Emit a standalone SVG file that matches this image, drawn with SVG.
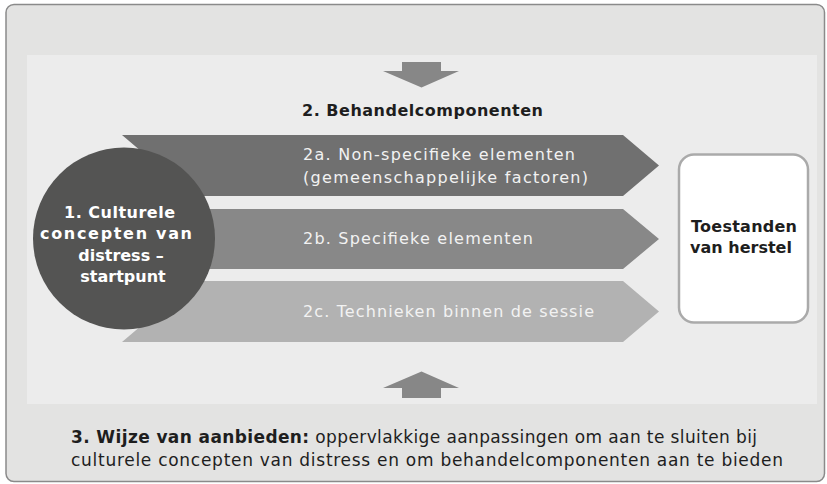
<svg xmlns="http://www.w3.org/2000/svg" width="827" height="484" viewBox="0 0 827 484">
<style>
.reg{font-family:"DejaVu Sans","Liberation Sans",sans-serif;font-size:16px}
.bold{font-family:"DejaVu Sans","Liberation Sans",sans-serif;font-size:16px;font-weight:bold}
.foot{font-family:"DejaVu Sans","Liberation Sans",sans-serif;font-size:17px}
.light{fill:#f2f2f2}
.dark{fill:#1e1e1e}
.white{fill:#ffffff}
.conn{fill:#878787}
</style>
<rect x="6" y="4.5" width="818.5" height="477" rx="8" fill="#e3e3e2" stroke="#8a8a8a" stroke-width="1.5"/>
<rect id="panel" x="27" y="55" width="790" height="349" fill="#ececec"/>
<g id="connectors">
<path class="conn" d="M402,62 H441 V71 H459 L421.5,87.5 L383,71 H402 Z"/>
<path class="conn" d="M402,398 H441 V388 H459 L421.5,371.5 L383,388 H402 Z"/>
</g>
<g id="title2">
<text class="bold dark" x="302" y="116" textLength="241" lengthAdjust="spacing">2. Behandelcomponenten</text>
</g>
<g id="n2a">
<path d="M122,135 H623 L659,165.5 L623,196 H122 L158,165.5 Z" fill="#707070"/>
<text class="reg light" x="303" y="160" textLength="272" lengthAdjust="spacing">2a. Non-specifieke elementen</text>
<text class="reg light" x="303" y="183" textLength="285" lengthAdjust="spacing">(gemeenschappelijke factoren)</text>
</g>
<g id="n2b">
<path d="M122,209 H623 L659,239 L623,269 H122 L158,239 Z" fill="#888888"/>
<text class="reg light" x="303" y="244" textLength="230" lengthAdjust="spacing">2b. Specifieke elementen</text>
</g>
<g id="n2c">
<path d="M122,281 H623 L659,311.5 L623,342 H122 L158,311.5 Z" fill="#b2b2b2"/>
<text class="reg light" x="303" y="317" textLength="291" lengthAdjust="spacing">2c. Technieken binnen de sessie</text>
</g>
<g id="n1">
<circle cx="124" cy="238.5" r="91" fill="#545453"/>
<text class="bold white" x="119.5" y="217.5" text-anchor="middle" textLength="111" lengthAdjust="spacing">1. Culturele</text>
<text class="bold white" x="116" y="239" text-anchor="middle" textLength="152" lengthAdjust="spacing">concepten van</text>
<text class="bold white" x="121" y="260.5" text-anchor="middle">distress –</text>
<text class="bold white" x="123" y="282" text-anchor="middle">startpunt</text>
</g>
<g id="herstel">
<rect x="679" y="154.5" width="129" height="168" rx="15" fill="#ffffff" stroke="#aaaaaa" stroke-width="2.5"/>
<text class="bold dark" x="744" y="232" text-anchor="middle" textLength="106" lengthAdjust="spacing">Toestanden</text>
<text class="bold dark" x="741" y="253" text-anchor="middle">van herstel</text>
</g>
<g id="n3">
<text class="foot dark" x="71" y="443" textLength="686" lengthAdjust="spacing"><tspan font-weight="bold">3. Wijze van aanbieden:</tspan> oppervlakkige aanpassingen om aan te sluiten bij</text>
<text class="foot dark" x="71" y="465.5" textLength="712" lengthAdjust="spacing">culturele concepten van distress en om behandelcomponenten aan te bieden</text>
</g>
</svg>
